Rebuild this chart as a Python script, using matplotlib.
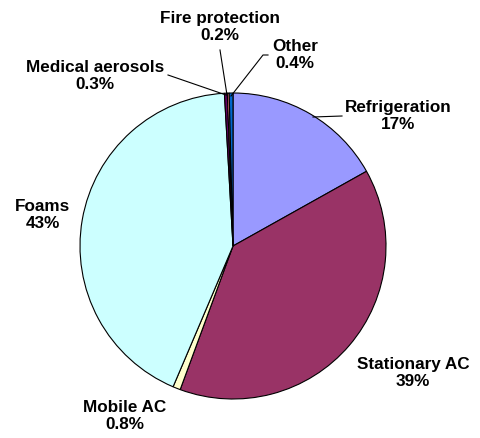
import matplotlib.pyplot as plt

labels = ['Refrigeration', 'Stationary AC', 'Mobile AC', 'Foams',
          'Medical aerosols', 'Fire protection', 'Other']
shares = [17, 39, 0.8, 43, 0.3, 0.2, 0.4]
pct_text = ['17%', '39%', '0.8%', '43%', '0.3%', '0.2%', '0.4%']
colors = ['#9999FF', '#993366', '#FFFFCC', '#CCFFFF', '#660066', '#FF8080', '#0066CC']

# label block centres in pixel space (y measured from top)
label_pos = [(398, 116), (413, 373), (125, 416), (43, 215),
             (95, 76), (220, 27), (295, 55)]
# leader lines (pixel space)
leaders = [[(313, 117), (342, 116)],
           None,
           None,
           None,
           [(168, 75), (226, 95)],
           [(220, 50), (227, 95)],
           [(231, 96), (263, 55), (268, 55)]]

H = 438
fig = plt.figure(figsize=(4.8, 4.38), dpi=100)
ax = fig.add_axes([0, 0, 1, 1])

ax.pie(shares, colors=colors, startangle=90, counterclock=False,
       center=(233, H - 246), radius=153, normalize=True,
       wedgeprops=dict(edgecolor='black', linewidth=0.8))
ax.set_xlim(0, 480)
ax.set_ylim(0, H)
ax.set_aspect('equal')
ax.axis('off')

for lab, p, (x, y) in zip(labels, pct_text, label_pos):
    ax.text(x, H - y, lab + '\n' + p, ha='center', va='center',
            fontsize=12.3, fontweight='bold', family='Liberation Sans',
            linespacing=1.2)

for seg in leaders:
    if seg:
        xs = [s[0] for s in seg]
        ys = [H - s[1] for s in seg]
        ax.plot(xs, ys, color='black', lw=0.8)

fig.savefig('out.png', dpi=100)
